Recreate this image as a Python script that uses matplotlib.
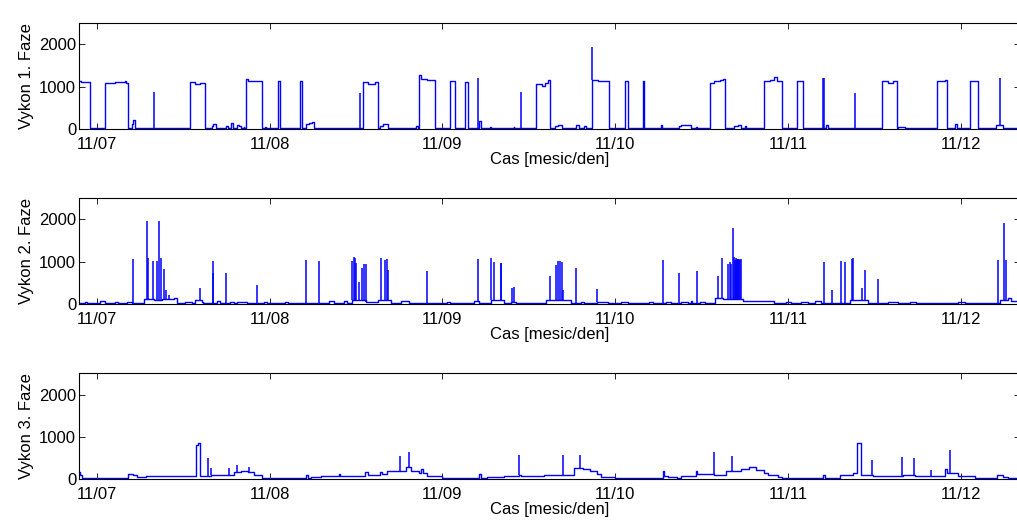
import datetime as dt
import matplotlib
matplotlib.use('Agg')
import matplotlib.pyplot as plt
import matplotlib.dates as mdates

# hours since 11/07 00:00, values in W (step data)
p1_t = [-2.5, -2.2, -1.0, 1.2, 2.5, 3.9, 4.1, 4.3, 4.9, 5.1, 5.3, 6.5, 6.6, 12.2, 12.3,
        13.0, 13.7, 14.3, 15.1, 16.0, 16.2, 16.5, 18.0, 18.2, 18.7, 18.9, 19.5, 19.8, 20.0,
        20.4, 20.5, 20.7, 21.0, 22.0, 23.0, 23.4, 23.5, 25.2, 25.5, 28.2, 28.5, 29.0, 29.5,
        29.9, 30.1, 30.8, 30.9, 35.6, 35.8, 37.0, 37.6, 38.6, 39.1, 39.3, 39.7, 40.5, 41.8,
        42.6, 44.3, 44.6, 44.7, 45.0, 45.8, 47.0, 49.1, 49.7, 51.2, 51.5, 53.1, 53.4, 54.6,
        54.8, 57.9, 58.0, 61.0, 61.8, 62.3, 62.6, 63.0, 63.6, 64.0, 64.6, 66.5, 67.0, 67.7,
        67.9, 68.8, 69.6, 71.1, 73.3, 73.7, 75.8, 76.0, 78.3, 78.5, 80.9, 81.1, 82.5, 83.2,
        83.3, 85.1, 85.7, 86.5, 87.0, 87.2, 87.4, 88.0, 88.5, 89.0, 89.5, 90.0, 90.2, 92.7,
        93.5, 94.0, 94.5, 95.1, 97.2, 98.1, 101.2, 101.6, 104.5, 104.6, 109.1, 109.8, 110.5,
        111.1, 111.2, 112.2, 116.7, 117.8, 118.0, 119.2, 119.5, 121.2, 122.3, 124.8, 125.8,
        127.0, 128.0]
p1_v = [1140, 1120, 25, 1100, 1110, 1150, 1100, 25, 120, 220, 25, 40, 25, 30, 25,
        1120, 1080, 1100, 25, 80, 120, 25, 80, 25, 150, 25, 100, 80, 25,
        60, 25, 1180, 1140, 1150, 25, 50, 25, 1140, 25, 1150, 25, 120, 150,
        170, 25, 40, 25, 40, 25, 1110, 1080, 1110, 25, 80, 120, 25, 40,
        25, 80, 25, 1270, 1180, 1160, 25, 1150, 25, 1120, 25, 200, 25, 50,
        25, 60, 25, 1080, 1030, 1100, 1170, 25, 80, 100, 25, 100, 25, 80,
        25, 1160, 1140, 25, 1150, 25, 1130, 25, 100, 25, 80, 100, 25, 50,
        25, 1100, 1130, 1160, 1190, 25, 40, 25, 80, 100, 25, 80, 25, 1130,
        1160, 1240, 1150, 25, 1150, 25, 100, 25, 40, 25, 1140, 1090, 1150,
        25, 50, 25, 1140, 1160, 25, 120, 25, 1150, 25, 100, 25,
        40, 40]
p1_spike_t = [8.0, 36.6, 53.0, 58.9, 68.8, 100.9, 101.0, 105.3, 125.4]
p1_spike_v = [890, 865, 1213, 890, 1930, 1200, 1200, 850, 1205]

p2_t = [-2.5, -2.1, -1.6, -1.3, 0.45, 1.15, 2.6, 3.0, 4.2, 4.9, 6.6, 8.0, 9.0, 10.7, 11.1,
        12.3, 13.2, 13.7, 14.6, 14.8, 16.7, 17.1, 18.5, 19.0, 19.5, 20.9, 23.2, 23.6, 24.3,
        25.0, 26.2, 26.6, 28.5, 29.0, 32.2, 32.9, 34.3, 34.8, 35.4, 37.4, 39.0, 40.8, 42.2,
        43.3, 44.5, 45.8, 48.7, 49.1, 50.5, 50.8, 52.4, 53.1, 54.7, 56.6, 57.5, 58.2, 58.9,
        60.3, 62.4, 65.8, 67.2, 67.7, 69.5, 71.0, 72.8, 73.7, 76.7, 77.2, 79.0, 79.7, 81.1,
        82.1, 82.5, 82.7, 83.7, 84.4, 85.8, 87.0, 89.7, 94.1, 95.7, 96.4, 97.8, 98.8, 99.7,
        100.6, 102.5, 103.4, 104.6, 107.1, 109.9, 111.3, 112.9, 113.8, 115.9, 117.3, 119.6,
        120.5, 122.4, 124.3, 125.4, 126.5, 127.0, 128.0]
p2_v = [40, 20, 50, 20, 80, 40, 50, 20, 60, 20, 120, 100, 120, 150, 40,
        50, 30, 100, 60, 20, 70, 30, 60, 30, 50, 20, 60, 20, 40,
        20, 60, 20, 40, 20, 70, 30, 70, 30, 110, 50, 100, 30, 70,
        30, 40, 20, 50, 20, 40, 20, 80, 30, 100, 30, 60, 20, 40,
        20, 100, 40, 60, 20, 60, 20, 60, 20, 50, 20, 50, 20, 50,
        20, 80, 30, 60, 20, 150, 120, 70, 30, 60, 20, 50, 20, 70,
        20, 40, 20, 90, 20, 50, 20, 60, 20, 40, 20, 50,
        20, 40, 20, 100, 150, 80, 80]
p2_spike_t = [5.0, 6.95, 7.09, 7.79, 8.34, 8.67, 8.95, 9.27, 9.6, 9.97, 14.4, 16.1, 16.2,
              17.9, 22.3, 29.0, 30.9, 35.5, 35.7, 35.8, 36.0, 36.4, 36.8, 37.1, 37.4, 39.4,
              40.0, 40.3, 40.4, 45.9, 53.0, 54.8, 55.2, 56.1, 56.2, 57.7, 57.9, 63.0, 63.8,
              64.1, 64.35, 64.6, 64.8, 66.6, 69.5, 78.6, 80.8, 83.3, 86.2, 86.8, 87.7, 87.9,
              88.0, 88.3, 88.5, 88.6, 88.7, 88.8, 88.9, 89.0, 89.1, 89.2, 89.3, 89.4, 101.0,
              102.1, 103.3, 103.9, 104.8, 105.0, 106.3, 106.7, 108.5, 125.1, 126.0, 126.2]
p2_spike_v = [1063, 1970, 1087, 1024, 1024, 1970, 1100, 835, 340, 220, 394, 1024, 748,
              748, 457, 1047, 1024, 1024, 1126, 1087, 970, 535, 850, 945, 945, 1100,
              1047, 1070, 810, 787, 1063, 1087, 992, 968, 968, 394, 417, 670, 929,
              1031, 1031, 992, 345, 850, 362, 1047, 732, 787, 670, 1087, 945, 1000,
              950, 1811, 1126, 1050, 1087, 1040, 1070, 1060, 1070, 1070, 1050, 1070, 992,
              339, 1024, 992, 1070, 1087, 378, 811, 590, 1047, 1913, 1047]

p3_t = [-2.5, -2.3, -2.1, 4.4, 5.0, 5.6, 6.9, 10.0, 13.8, 14.1, 14.4, 15.8, 19.0, 20.0, 21.0,
        21.8, 22.9, 29.0, 29.4, 29.7, 31.1, 33.6, 33.8, 34.5, 37.3, 37.6, 39.3, 39.6, 40.3,
        42.9, 43.6, 44.7, 45.0, 45.3, 45.9, 48.0, 53.1, 53.3, 54.2, 56.6, 58.65, 58.9, 62.1,
        64.9, 66.2, 67.5, 68.5, 69.5, 70.0, 71.9, 78.6, 78.8, 79.3, 80.5, 81.1, 83.2, 83.4,
        85.7, 87.4, 89.5, 90.5, 91.5, 92.7, 93.2, 94.6, 95.1, 100.85, 101.1, 103.2, 105.0,
        105.6, 106.1, 107.8, 112.0, 113.6, 117.8, 118.0, 119.6, 121.9, 125.0, 125.8, 126.5,
        128.0]
p3_v = [180, 100, 30, 130, 100, 60, 85, 90, 811, 850, 90, 100, 170, 190, 170,
        100, 40, 110, 40, 60, 70, 120, 90, 80, 170, 100, 180, 120, 200,
        300, 200, 150, 240, 150, 80, 20, 130, 30, 60, 80, 100, 70, 100,
        100, 260, 240, 200, 120, 60, 20, 200, 80, 60, 40, 80, 200, 120,
        110, 200, 250, 280, 230, 150, 100, 60, 20, 100, 20, 100, 150,
        866, 100, 70, 100, 70, 240, 150, 80, 20, 100, 60, 40,
        40]
p3_spike_t = [15.5, 15.9, 18.4, 19.5, 21.2, 42.1, 43.3, 58.65, 64.8, 67.1, 85.7, 88.2,
              107.6, 111.8, 113.5, 115.8, 118.5]
p3_spike_v = [512, 260, 260, 340, 300, 551, 653, 575, 567, 575, 638, 551,
              457, 520, 512, 220, 693]

panels = [
    ('Vykon 1. Faze', p1_t, p1_v, p1_spike_t, p1_spike_v),
    ('Vykon 2. Faze', p2_t, p2_v, p2_spike_t, p2_spike_v),
    ('Vykon 3. Faze', p3_t, p3_v, p3_spike_t, p3_spike_v),
]

start = dt.datetime(2014, 11, 7)


def to_dates(hours):
    return [start + dt.timedelta(hours=h) for h in hours]


plt.rcParams['font.family'] = ['Liberation Sans', 'DejaVu Sans']
plt.rcParams['font.size'] = 12

fig = plt.figure(figsize=(10.17, 5.21), dpi=100)
bottoms = [0.7518, 0.4159, 0.0800]

for (label, t, v, st, sv), b in zip(panels, bottoms):
    ax = fig.add_axes([0.0777, b, 0.9253, 0.2035])
    ax.plot(to_dates(t), v, color='b', lw=1.0, drawstyle='steps-post')
    # spikes rise from the level underneath them
    base = []
    for h in st:
        lvl = v[0]
        for tt, vv in zip(t, v):
            if tt <= h:
                lvl = vv
        base.append(lvl)
    ax.vlines(to_dates(st), base, sv, color='b', lw=1.1)

    ax.set_xlim(start - dt.timedelta(hours=2.46), start + dt.timedelta(hours=128.2))
    ax.set_ylim(0, 2500)
    ax.set_yticks([0, 1000, 2000])
    ax.xaxis.set_major_locator(mdates.DayLocator())
    ax.xaxis.set_major_formatter(mdates.DateFormatter('%m/%d'))
    ax.tick_params(direction='in', length=4, width=0.6, top=True, right=True,
                   pad=2, labelsize=12)
    ax.tick_params(axis='x', pad=5.5)
    ax.set_ylabel(label, labelpad=4)
    ax.set_xlabel('Cas [mesic/den]', labelpad=0)
    for s in ax.spines.values():
        s.set_linewidth(0.8)

plt.savefig('out.png', dpi=100)
